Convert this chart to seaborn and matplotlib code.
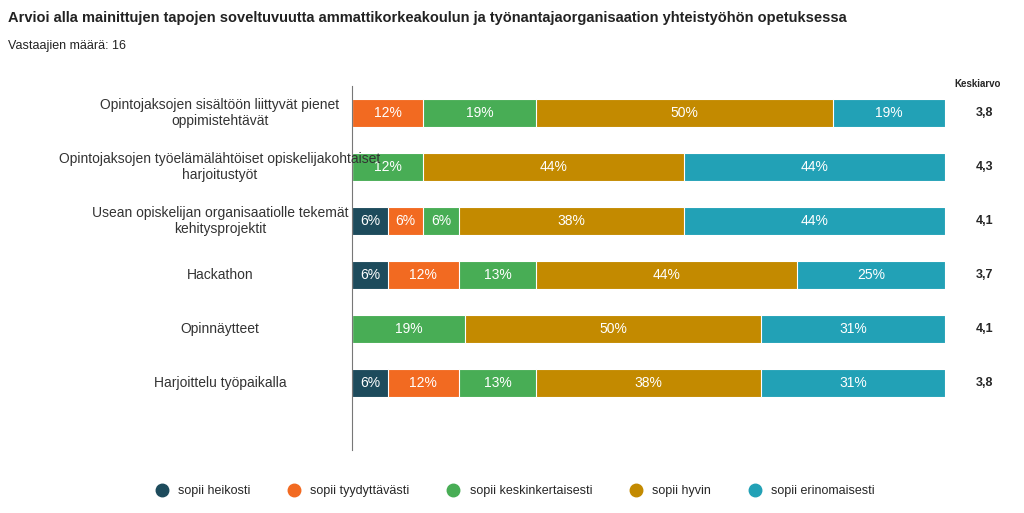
import numpy as np
import pandas as pd
import seaborn as sns
import matplotlib.pyplot as plt
from matplotlib.lines import Line2D

categories = ['Opintojaksojen sisältöön liittyvät pienet\noppimistehtävät',
              'Opintojaksojen työelämälähtöiset opiskelijakohtaiset\nharjoitustyöt',
              'Usean opiskelijan organisaatiolle tekemät\nkehitysprojektit',
              'Hackathon',
              'Opinnäytteet',
              'Harjoittelu työpaikalla']
series = ['sopii heikosti', 'sopii tyydyttävästi', 'sopii keskinkertaisesti', 'sopii hyvin', 'sopii erinomaisesti']
heikosti = [0, 0, 6, 6, 0, 6]
tyydyttavasti = [12, 0, 6, 12, 0, 12]
keskinkertaisesti = [19, 12, 6, 13, 19, 13]
hyvin = [50, 44, 38, 44, 50, 38]
erinomaisesti = [19, 44, 44, 25, 31, 31]
keskiarvo = ['3,8', '4,3', '4,1', '3,7', '4,1', '3,8']
colors = ['#1d4b5c', '#f26a21', '#48ad55', '#c38a00', '#22a1b6']

sns.set_style('white')
plt.rcParams['font.family'] = ['Liberation Sans', 'DejaVu Sans']

vals = np.array([heikosti, tyydyttavasti, keskinkertaisesti, hyvin, erinomaisesti], dtype=float)
cum = vals.cumsum(axis=0)

fig = plt.figure(figsize=(10.24, 5.13), dpi=100)
ax = fig.add_axes([0.344, 1 - 450 / 513, 0.923 - 0.344, (450 - 86) / 513])

for k in range(4, -1, -1):
    df = pd.DataFrame({'cat': categories, 'v': cum[k]})
    sns.barplot(data=df, y='cat', x='v', orient='h', color=colors[k], saturation=1,
                width=0.52, ax=ax, edgecolor='white', linewidth=0.8)

ytr = ax.get_yaxis_transform()
for i in range(len(categories)):
    for k in range(5):
        if vals[k, i] > 0:
            ax.text(cum[k, i] - vals[k, i] / 2, i, f'{int(vals[k, i])}%', ha='center', va='center',
                    color='white', fontsize=10)
    ax.text(1.067, i, keskiarvo[i], transform=ytr, ha='center', va='center',
            fontsize=9, fontweight='bold')
    ax.text(-0.223, i, categories[i], transform=ytr, ha='center', va='center',
            fontsize=10, color='#333333', linespacing=1.1)
ax.text(1.055, -0.45, 'Keskiarvo', transform=ytr, ha='center', va='bottom',
        fontsize=7, fontweight='bold')

ax.set_xlim(0, 100)
ax.set_ylim(6.24, -0.5)
ax.set_xlabel('')
ax.set_ylabel('')
ax.set_xticks([])
ax.set_yticks([])
for s in ['top', 'right', 'bottom']:
    ax.spines[s].set_visible(False)
ax.spines['left'].set_color('#777777')

fig.text(0.008, 0.965, 'Arvioi alla mainittujen tapojen soveltuvuutta ammattikorkeakoulun ja työnantajaorganisaation yhteistyöhön opetuksessa',
         fontsize=10.5, fontweight='bold', va='center', color='#222222')
fig.text(0.008, 0.91, 'Vastaajien määrä: 16', fontsize=9, va='center', color='#222222')

handles = [Line2D([], [], marker='o', linestyle='', markersize=9, color=c) for c in colors]
fig.legend(handles, series, loc='center', bbox_to_anchor=(0.5, 0.043), ncol=5, frameon=False,
           fontsize=9, handletextpad=0.3, columnspacing=2.5)

fig.savefig('out.png', dpi=100)
